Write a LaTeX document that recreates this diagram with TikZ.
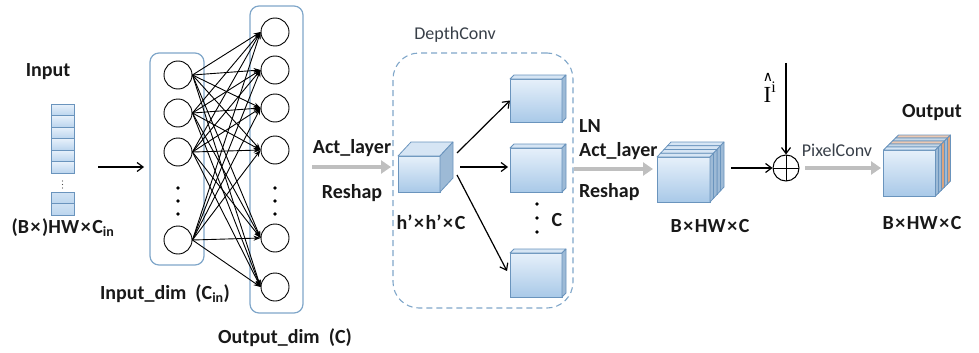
\documentclass[tikz,border=0pt]{standalone}
\usepackage{fontspec}
\setmainfont{Carlito}
\newfontfamily\serifI{Liberation Serif}
\newfontfamily\symfont{DejaVu Sans}
\usetikzlibrary{arrows.meta,calc}

\definecolor{boxblue}{HTML}{7FA6C9}
\definecolor{edgeblue}{HTML}{6A94BD}
\definecolor{facetop}{HTML}{E6F0FA}
\definecolor{facebot}{HTML}{A9C9E8}
\definecolor{sidecol}{HTML}{9DBAD6}
\definecolor{toplight}{HTML}{D6E5F4}
\definecolor{grayarrow}{HTML}{BFBFBF}
\definecolor{orangeside}{HTML}{DDA47E}
\definecolor{celltop}{HTML}{E8F1FB}
\definecolor{cellbot}{HTML}{BBD5EE}
\definecolor{labgray}{HTML}{383F48}

\newcommand{\tms}{\kern0.08em×\kern0.08em}

% #1 name, #2 x, #3 y (centre of front face), #4 w, #5 h, #6 dx, #7 dy, #8 side colour, #9 top colour
\newcommand{\mycube}[9]{%
  \node[cubeface, minimum width=#4pt, minimum height=#5pt] (#1) at (#2,#3) {};
  \filldraw[draw=edgeblue, fill=#9, line width=0.8pt, line join=round]
    (#1.north west) -- ++(#6,-#7) -- ++(#4,0) -- (#1.north east) -- cycle;
  \filldraw[draw=edgeblue, fill=#8, line width=0.8pt, line join=round]
    (#1.north east) -- ++(#6,-#7) -- ++(0,#5) -- (#1.south east) -- cycle;
}

\begin{document}
\begin{tikzpicture}[x=1pt,y=-1pt,
  lbl/.style={font=\fontsize{20}{22}\selectfont\bfseries, inner sep=0, text=black!90},
  reg/.style={font=\fontsize{18}{20}\selectfont, inner sep=0, text=labgray},
  nn/.style={circle, draw=black, line width=0.9pt, minimum size=28pt, inner sep=0},
  nndot/.style={circle, fill=black, minimum size=3.6pt, inner sep=0},
  nnarrow/.style={-{Stealth[length=7pt,width=5pt]}, line width=0.9pt},
  blk/.style={-{Straight Barb[length=6pt,width=9pt]}, line width=1.2pt},
  grayarr/.style={draw=grayarrow, line width=4.5pt, -{Triangle[length=10pt,width=13pt]}},
  cubeface/.style={draw=edgeblue, top color=facetop, bottom color=facebot, inner sep=0, outer sep=0, line width=0.8pt},
  cell/.style={draw=edgeblue, top color=celltop, bottom color=cellbot, minimum width=23pt, minimum height=11.5pt, inner sep=0, line width=0.7pt},
  nnbox/.style={draw=boxblue, rounded corners=9pt, line width=1.2pt, inner sep=0}
]
\useasboundingbox (0,0) rectangle (979,353);

% ---------------- Input column ----------------
\node[lbl] (inlab) at (48,72) {Input};
\foreach \k in {1,...,6}{
  \node[cell] (cell\k) at (62.5,{104+11.5*(\k-0.5)}) {};
}
\foreach \k/\yy in {1/181,2/184.5,3/188}{
  \node[circle, fill=black!70, minimum size=1.4pt, inner sep=0] (cd\k) at (62.5,\yy) {};
}
\node[cell, top color=cellbot!70, bottom color=cellbot] (cellb1) at (62.5,198.5) {};
\node[cell, top color=cellbot!70, bottom color=cellbot] (cellb2) at (62.5,209.5) {};
\node[lbl] (indim) at (63,228) {(B\tms)HW\tms C\textsubscript{in}};

\coordinate (ia) at (98,167);
\coordinate (ib) at (144,167);
\draw[blk] (ia) -- (ib);

% ---------------- Fully connected layer ----------------
\node[nnbox, minimum width=54pt, minimum height=212pt] (ibox) at (177,159) {};
\node[nnbox, minimum width=53pt, minimum height=307pt] (obox) at (276.5,159.5) {};

\foreach \k/\yy in {1/75,2/113,3/152,4/240}{
  \node[nn] (i\k) at (178,\yy) {};
}
\foreach \k/\yy in {1/32,2/70,3/108,4/150,5/238,6/287}{
  \node[nn] (o\k) at (275,\yy) {};
}
\foreach \k/\yy in {1/188,2/201,3/214}{
  \node[nndot] (id\k) at (178,\yy) {};
  \node[nndot] (od\k) at (275,\yy) {};
}
\foreach \a in {1,...,4}{
  \foreach \b in {1,...,6}{
    \draw[nnarrow] (i\a.east) -- (o\b.west);
  }
}
\node[lbl] (indimlab) at (165,294) {Input\_dim\ \ (C\textsubscript{in})};
\node[lbl] (outdimlab) at (285,338) {Output\_dim\ \ (C)};

% ---------------- Act layer 1 ----------------
\coordinate (g1a) at (312,167);
\coordinate (g1b) at (391,167);
\draw[grayarr] (g1a) -- (g1b);
\node[lbl] (act1) at (352,148) {Act\_layer};
\node[lbl] (resh1) at (352,193) {Reshap};

% ---------------- DepthConv ----------------
\node[draw=boxblue, dash pattern=on 6pt off 4pt, rounded corners=26pt, line width=1.1pt,
      minimum width=180pt, minimum height=255pt, inner sep=0] (dcbox) at (483,180.5) {};
\node[reg] (dclab) at (455,35) {DepthConv};

\mycube{dc}{419}{174}{42}{36}{13}{14}{sidecol}{toplight}
\node[lbl] (dcdim) at (431,222) {h’\tms h’\tms C};

\mycube{r1}{536}{100.5}{52}{43}{4}{4}{sidecol}{toplight}
\mycube{r2}{536}{170}{52}{44}{4}{4}{sidecol}{toplight}
\mycube{r3}{536}{275}{52}{44}{4}{4}{sidecol}{toplight}

\foreach \k/\yy in {1/204,2/218,3/232}{
  \node[nndot] (cdot\k) at (537,\yy) {};
}
\node[lbl] (clab) at (557,220) {C};

\coordinate (d1) at (457,153);
\coordinate (d2) at (460,167);
\coordinate (d3) at (457,175);
\draw[blk] (d1) -- (r1.west);
\draw[blk] (d2) -- ($(r2.west)+(-2,-3)$);
\draw[blk] (d3) -- ($(r3.west)+(-3,-4)$);

% ---------------- LN / Act layer 2 ----------------
\node[lbl, anchor=west] (ln) at (579,126) {LN};
\node[lbl, anchor=west] (act2) at (579,151) {Act\_layer};
\node[lbl, anchor=west] (resh2) at (579,192) {Reshap};
\coordinate (g2a) at (574,169);
\coordinate (g2b) at (653,169);
\draw[grayarr] (g2a) -- (g2b);

% stacked cube
\foreach \k in {3,2,1}{
  \mycube{stk\k}{683.5+3.5*\k}{179.5-3.75*\k}{53}{45}{3.5}{3.75}{sidecol}{toplight}
}
\mycube{big}{683.5}{179.5}{53}{45}{3.5}{3.75}{sidecol}{toplight}
\node[lbl] (bigdim) at (710,226) {B\tms HW\tms C};

% ---------------- Sum ----------------
\node[circle, draw=black, line width=1pt, minimum size=26pt, inner sep=0,
  path picture={\draw[line width=1pt] (path picture bounding box.north) -- (path picture bounding box.south)
  (path picture bounding box.west) -- (path picture bounding box.east);}] (plus) at (786,168) {};
\coordinate (bigout) at (731,168);
\draw[blk] (bigout) -- (plus.west);
\coordinate (itop) at (786,63);
\draw[blk] (itop) -- (plus.north);
\node[inner sep=0, font=\symfont\fontsize{14}{14}\selectfont] (hat) at (768,77) {∧};
\node[inner sep=0, font=\serifI\fontsize{23}{24}\selectfont, anchor=base] (ihat) at (770,102) {I\textsuperscript{i}};

% ---------------- PixelConv / Output ----------------
\coordinate (g3a) at (805,168);
\coordinate (g3b) at (881,168);
\draw[grayarr] (g3a) -- (g3b);
\node[reg] (pclab) at (837,150) {PixelConv};

\foreach \k/\cc in {4/orangeside,3/sidecol,2/orangeside,1/sidecol}{
  \mycube{oc\k}{909.5+3*\k}{173-3*\k}{52}{46}{3}{3}{\cc}{\cc!60}
}
\mycube{outc}{909.5}{173}{52}{46}{3}{3}{sidecol}{toplight}
\node[lbl] (outlab) at (932,113) {Output};
\node[lbl] (outdim) at (922,223) {B\tms HW\tms C};

\end{tikzpicture}
\end{document}
